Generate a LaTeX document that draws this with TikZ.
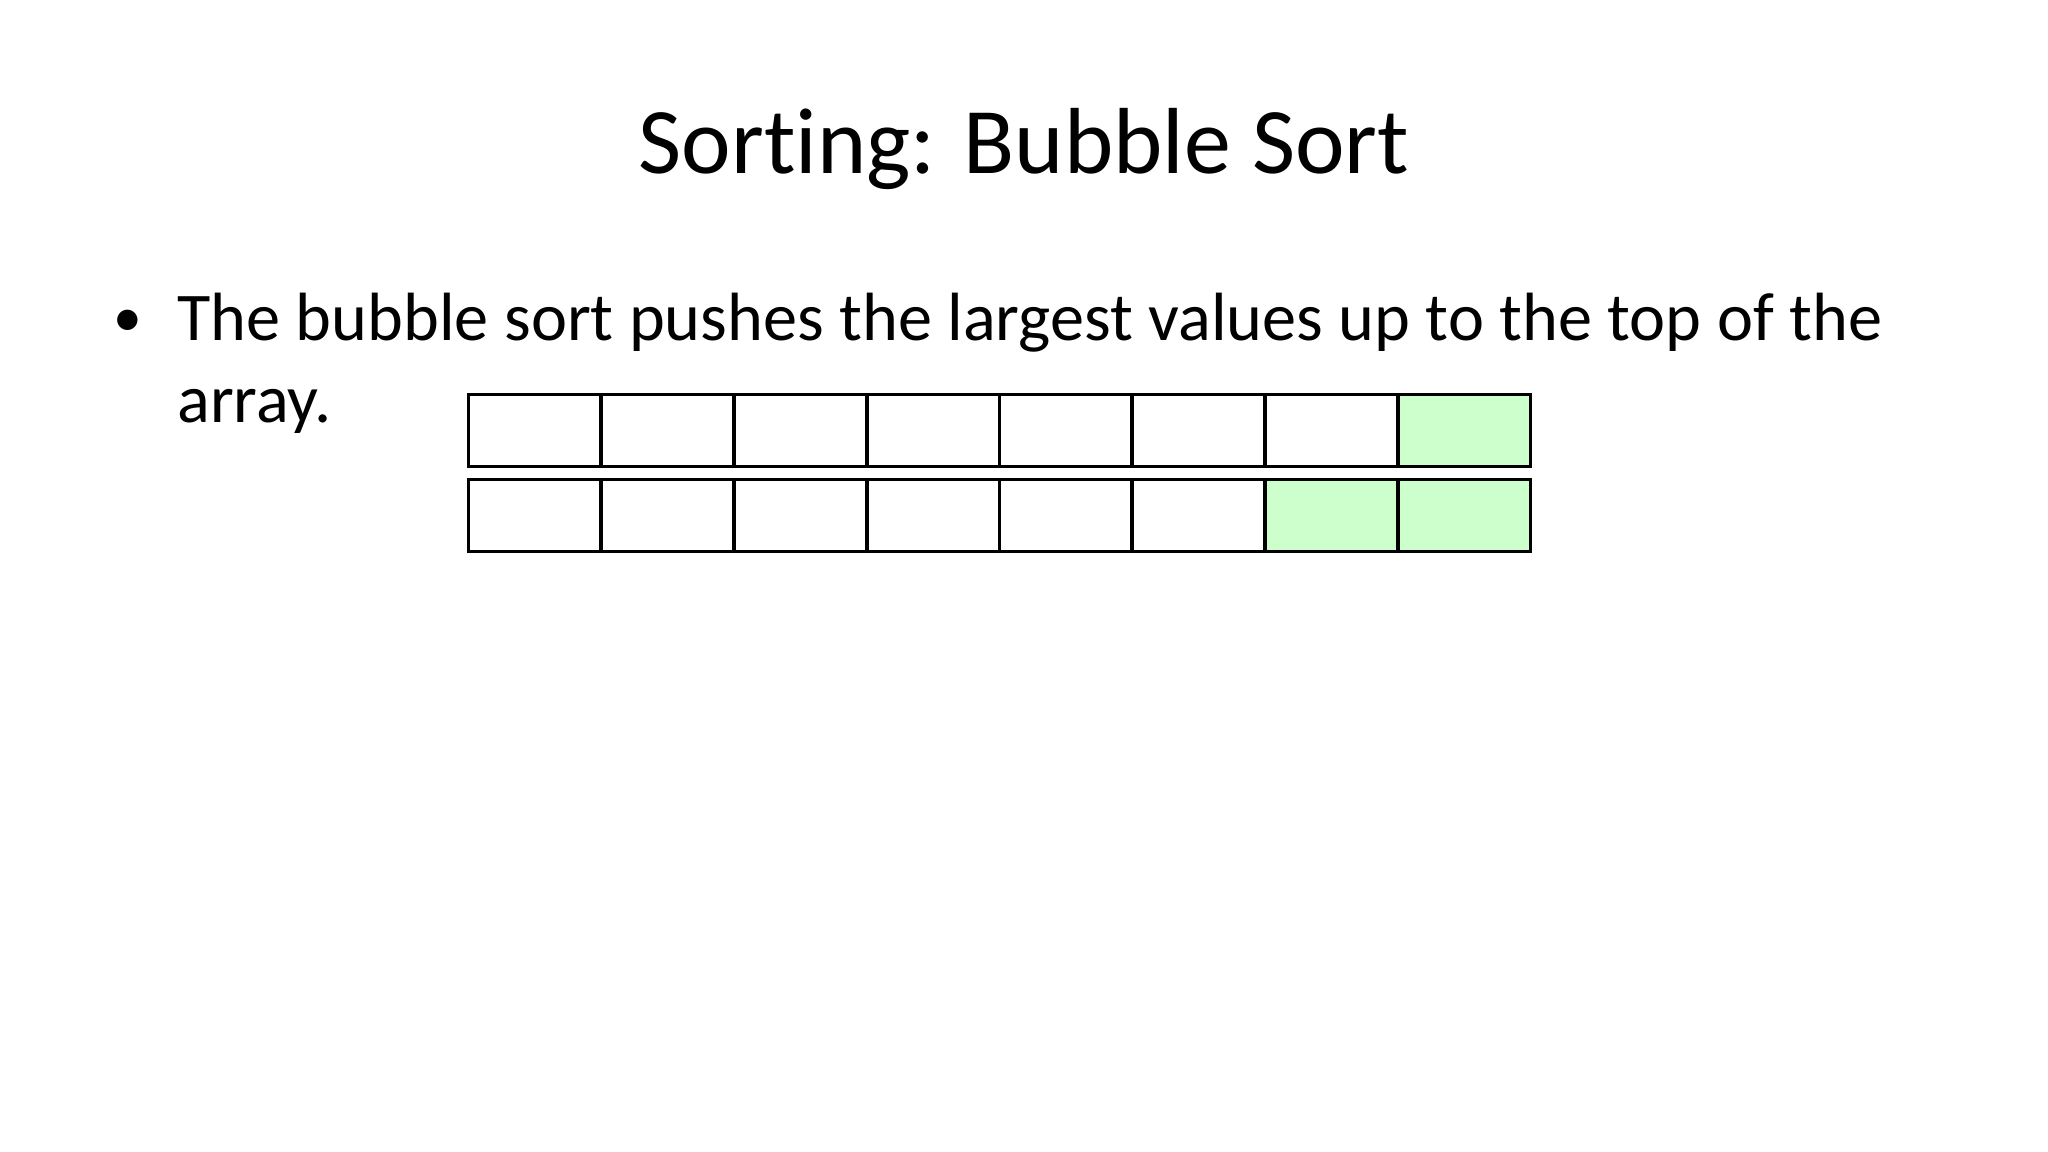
\documentclass[tikz,border=0pt]{standalone}
\usepackage{fontspec}
\setmainfont{Carlito}[Ligatures=NoCommon]
\usetikzlibrary{positioning}

\definecolor{sortgreen}{RGB}{204,255,204}

\tikzset{
	cell/.style={draw, line width=1.7pt, minimum width=62.2pt, minimum height=33.7pt, inner sep=0pt},
	done/.style={cell, fill=sortgreen},
	titletext/.style={font=\fontsize{44}{52.8}\selectfont, inner sep=0pt},
	bodytext/.style={font=\fontsize{32}{38.4}\selectfont, inner sep=0pt}
}

\begin{document}
\begin{tikzpicture}[x=0.46875pt, y=-0.46875pt]
			\useasboundingbox (0, 0) rectangle (2048, 1152);

			\node[titletext, anchor=base] (title) at (1024, 174) {Sorting: Bubble Sort};

			\node[bodytext, font=\fontsize{27}{32}\selectfont, anchor=base] (dot) at (128, 337) {•};
			\node[bodytext, anchor=base west] (line1) at (177, 341) {The bubble sort pushes the largest values up to the top of the};
			\node[bodytext, anchor=base west] (line2) at (177, 422) {array.};

			% first pass: largest value at the end
			\foreach \i in {1,...,7}
				\node[cell] (a\i) at (468.5 + 132.75*\i - 66.375, 430.5) {};
			\node[done] (a8) at (468.5 + 132.75*8 - 66.375, 430.5) {};

			% second pass: two values in place
			\foreach \i in {1,...,6}
				\node[cell] (b\i) at (468.5 + 132.75*\i - 66.375, 515.5) {};
			\foreach \i in {7,8}
				\node[done] (b\i) at (468.5 + 132.75*\i - 66.375, 515.5) {};
			\end{tikzpicture}
\end{document}
